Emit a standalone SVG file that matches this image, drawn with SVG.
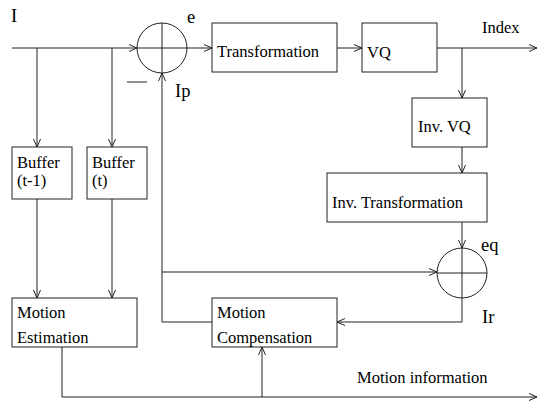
<svg xmlns="http://www.w3.org/2000/svg" width="537" height="406" viewBox="0 0 537 406">
<style>
.b{fill:#fff;stroke:#222;stroke-width:1}
.c{fill:none;stroke:#222;stroke-width:1}
text{font-family:'Liberation Serif','Times New Roman',Times,serif;fill:#000}
.t{font-size:16.5px}
.l{font-size:18.5px}
</style>
<defs>
<marker id="a" markerWidth="10" markerHeight="10" refX="9" refY="5" orient="auto" markerUnits="userSpaceOnUse">
<path d="M1,1.5 L9,5 L1,8.5" fill="none" stroke="#222" stroke-width="1"/>
</marker>
</defs>
<rect width="537" height="406" fill="#fff"/>
<g id="connectors" class="c">
<path d="M12,48 H137" marker-end="url(#a)"/>
<path d="M37,48 V147" marker-end="url(#a)"/>
<path d="M112,48 V147" marker-end="url(#a)"/>
<path d="M187,48 H212" marker-end="url(#a)"/>
<path d="M337,48 H362" marker-end="url(#a)"/>
<path d="M437,48 H537" marker-end="url(#a)"/>
<path d="M462,48 V98" marker-end="url(#a)"/>
<path d="M462,147 V173" marker-end="url(#a)"/>
<path d="M462,222 V248" marker-end="url(#a)"/>
<path d="M462,298 V322 H337" marker-end="url(#a)"/>
<path d="M162,272 H437" marker-end="url(#a)"/>
<path d="M212,322 H162 V73" marker-end="url(#a)"/>
<path d="M37,199 V298" marker-end="url(#a)"/>
<path d="M112,199 V298" marker-end="url(#a)"/>
<path d="M62,347 V397 H537" marker-end="url(#a)"/>
<path d="M262,397 V347" marker-end="url(#a)"/>
</g>
<g id="sum1">
<circle class="c" cx="162" cy="48" r="25"/>
<path class="c" d="M137,48 H187 M162,23 V73"/>
</g>
<g id="sum2">
<circle class="c" cx="462" cy="273" r="25"/>
<path class="c" d="M437,273 H487 M462,248 V298"/>
</g>
<g id="transformation">
<rect class="b" x="212" y="23" width="125" height="49"/>
<text class="t" x="217" y="57" font-family="Liberation Serif, serif">Transformation</text>
</g>
<g id="vq">
<rect class="b" x="362" y="23" width="75" height="49"/>
<text class="t" x="367" y="58">VQ</text>
</g>
<g id="invvq">
<rect class="b" x="412" y="98" width="75" height="49"/>
<text class="t" x="418" y="132">Inv. VQ</text>
</g>
<g id="invtransformation">
<rect class="b" x="327" y="173" width="160" height="49"/>
<text class="t" x="332" y="208">Inv. Transformation</text>
</g>
<g id="buffer1">
<rect class="b" x="12" y="147" width="60" height="52"/>
<text class="t" x="17" y="168">Buffer</text>
<text class="t" x="17" y="186">(t-1)</text>
</g>
<g id="buffer2">
<rect class="b" x="87" y="147" width="60" height="52"/>
<text class="t" x="92" y="168">Buffer</text>
<text class="t" x="92" y="186">(t)</text>
</g>
<g id="motionestimation">
<rect class="b" x="12" y="298" width="125" height="49"/>
<text class="t" x="17" y="318">Motion</text>
<text class="t" x="17" y="343">Estimation</text>
</g>
<g id="motioncompensation">
<rect class="b" x="212" y="298" width="125" height="49"/>
<text class="t" x="217" y="318">Motion</text>
<text class="t" x="217" y="343">Compensation</text>
</g>
<g id="labels">
<text class="l" x="11" y="22">I</text>
<text class="l" x="187" y="23">e</text>
<path class="c" d="M127,82 H147"/>
<text class="l" x="175" y="97">Ip</text>
<text class="t" x="482" y="33">Index</text>
<text class="l" x="481" y="251">eq</text>
<text class="l" x="482" y="323">Ir</text>
<text class="t" x="357" y="383">Motion information</text>
</g>
</svg>
